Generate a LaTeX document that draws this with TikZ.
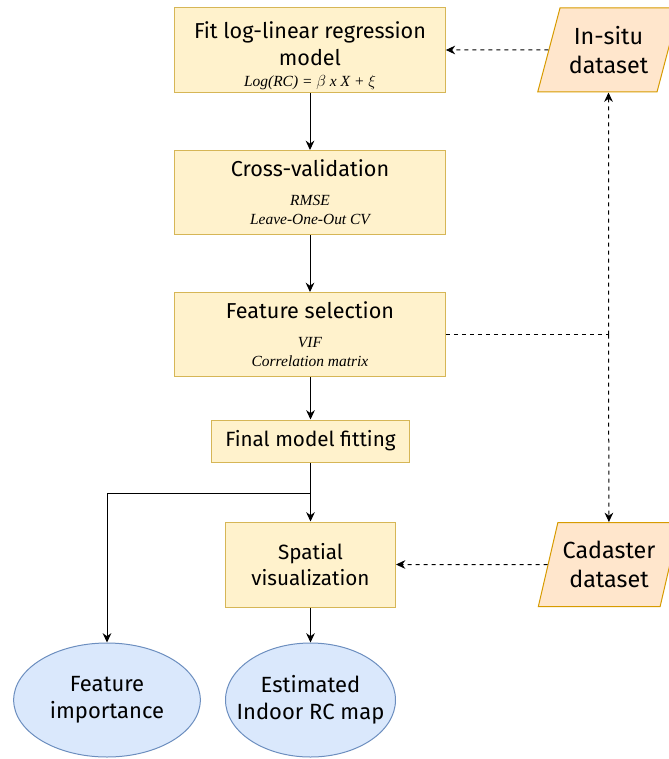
\documentclass[tikz,border=0pt]{standalone}
\usepackage{fontspec}
\setmainfont{Fira Sans}
\newfontfamily\notefont{Liberation Serif}
\usetikzlibrary{arrows.meta,shapes.geometric}

\definecolor{boxfill}{HTML}{FFF2CC}
\definecolor{boxline}{HTML}{D6B656}
\definecolor{datafill}{HTML}{FFE6CC}
\definecolor{dataline}{HTML}{D79B00}
\definecolor{outfill}{HTML}{DAE8FC}
\definecolor{outline}{HTML}{6C8EBF}

\newcommand{\note}[1]{{\notefont\itshape\fontsize{11.6}{13}\selectfont #1}}

\begin{document}
\begin{tikzpicture}[x=0.75pt,y=-0.75pt,
  stepbox/.style={draw=boxline,fill=boxfill,line width=0.75pt,align=center,
    minimum width=203pt,minimum height=63pt,inner sep=2pt,font=\fontsize{16.2}{20}\selectfont},
  databox/.style={draw=dataline,fill=datafill,line width=0.75pt,align=center,
    trapezium,trapezium left angle=72,trapezium right angle=108,trapezium stretches=true,
    minimum width=107pt,minimum height=63pt,inner xsep=-3pt,inner ysep=1pt,font=\fontsize{17.5}{22}\selectfont},
  outbox/.style={draw=outline,fill=outfill,line width=0.75pt,align=center,ellipse,
    minimum height=85.5pt,inner xsep=-12pt,inner ysep=0pt,font=\fontsize{16.5}{20.5}\selectfont},
  flow/.style={line width=0.75pt,-{Stealth[length=7pt,width=6.5pt]}},
  dflow/.style={flow,dash pattern=on 3pt off 3pt},
  dline/.style={line width=0.75pt,dash pattern=on 3pt off 3pt}]
  \useasboundingbox (0,0) rectangle (668,759);

  % processing steps
  \node[stepbox] (fit) at (310,50) {\rule{0pt}{21pt}Fit log-linear regression\\model\\[-4pt]\note{Log(RC) = $\beta$ x X + $\xi$}};
  \node[stepbox] (cv) at (310,192.5) {Cross-validation\\[1.75pt]\note{RMSE}\\[-5.75pt]\note{Leave-One-Out CV}};
  \node[stepbox] (fs) at (310,334.5) {Feature selection\\[1.75pt]\note{VIF}\\[-5.75pt]\note{Correlation matrix}};
  \node[stepbox,minimum width=149pt,minimum height=31.5pt,font=\fontsize{15.5}{18}\selectfont] (final) at (310.5,441) {Final model fitting};
  \node[stepbox,minimum width=127.5pt,minimum height=63.75pt,font=\fontsize{15.5}{19.5}\selectfont] (spatial) at (310.5,564.5) {Spatial\\visualization};

  % data sources
  \node[databox] (insitu) at (608.5,50) {In-situ\\dataset};
  \node[databox] (cadaster) at (609,564.5) {Cadaster\\dataset};

  % outputs
  \node[outbox,minimum width=140pt] (imp) at (107,700) {Feature\\importance};
  \node[outbox,minimum width=127.5pt] (map) at (310.5,700) {Estimated\\Indoor RC map};

  % connectors
  \draw[flow] (fit) -- (cv);
  \draw[flow] (cv) -- (fs);
  \draw[flow] (fs.south -| final) -- (final);
  \draw[flow] (final) -- (spatial);
  \coordinate (split) at (final.south |- 0,493);
  \draw[flow] (split) -| (imp);
  \draw[flow] (spatial) -- (map);

  \draw[dflow] (insitu) -- (fit);
  \coordinate (join) at (insitu.south |- fs.east);
  \draw[dline] (fs.east) -- (join);
  \draw[dflow] (join) -- (insitu);
  \draw[dflow] (join) -- (cadaster);
  \draw[dflow] (cadaster) -- (spatial);
\end{tikzpicture}
\end{document}
